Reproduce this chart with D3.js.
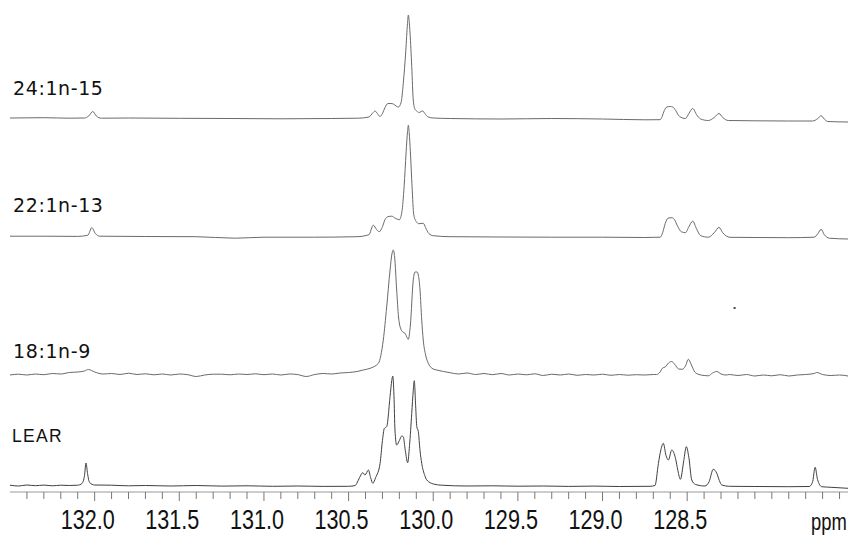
<!DOCTYPE html>
<html>
<head>
<meta charset="utf-8">
<script src="https://cdn.jsdelivr.net/npm/d3@7"></script>
<style>
  body { margin: 0; background: #fff; }
  svg { display: block; }
</style>
</head>
<body>
<div id="chart"></div>
<script>
// 13C NMR olefinic region, four samples stacked (ppm, relative intensity)
const traceNames = ['24:1n-15', '22:1n-13', '18:1n-9', 'LEAR'];

const ppm24 = [132.50, 132.30, 132.15, 132.06, 132.035, 132.011, 131.99, 131.96, 131.80, 131.50, 131.20, 130.90, 130.60, 130.44,
  130.38, 130.355, 130.344, 130.33, 130.314, 130.30, 130.285, 130.267, 130.25, 130.236, 130.215, 130.206, 130.19, 130.177,
  130.162, 130.152, 130.147, 130.142, 130.137, 130.127, 130.118, 130.107, 130.097, 130.085, 130.062, 130.05, 130.03, 130.0,
  129.90, 129.60, 129.30, 129.00, 128.75, 128.66, 128.648, 128.635, 128.62, 128.60, 128.585, 128.568, 128.545, 128.51,
  128.49, 128.467, 128.445, 128.42, 128.375, 128.34, 128.312, 128.29, 128.257, 128.10, 127.90, 127.76, 127.728, 127.709,
  127.69, 127.67, 127.55];
const int24 = [0.5, 0.8, 0.3, 0.5, 2.5, 7, 2.5, 0.3, 0.5, 0.2, 0, -0.3, 0, 0.3,
  1.5, 6, 7.5, 5, 2, 5, 11, 15, 15, 14.5, 12, 11.5, 16, 35,
  68, 95, 103.5, 97, 85.5, 52, 18.5, 9, 7.5, 6, 7.5, 5, 1.5, 0.5,
  0, -0.5, 0, -0.5, -1.3, -1.2, 2, 8, 11.5, 12, 11.5, 8, 2, 0,
  5, 10, 4, -0.5, -2, 1, 5, 1, -2, -2.3, -2.5, -2.5, 0, 2.8,
  -0.5, -3, -3.5];

const ppm22 = [132.50, 132.30, 132.10, 132.04, 132.017, 131.995, 131.97, 131.70, 131.40, 131.17, 131.00, 130.70, 130.45,
  130.38, 130.354, 130.334, 130.319, 130.30, 130.285, 130.267, 130.245, 130.225, 130.200, 130.185, 130.172, 130.16, 130.152,
  130.147, 130.142, 130.135, 130.125, 130.115, 130.100, 130.085, 130.059, 130.045, 130.025, 130.00, 129.90, 129.60, 129.30,
  129.00, 128.75, 128.66, 128.645, 128.63, 128.613, 128.59, 128.575, 128.555, 128.535, 128.51, 128.49, 128.467, 128.445,
  128.42, 128.375, 128.34, 128.312, 128.29, 128.247, 128.10, 127.90, 127.75, 127.728, 127.709, 127.69, 127.66, 127.55];
const int22 = [0.5, 0.5, 0.3, 1.5, 9, 3, 0.5, 0.2, 0, -1.5, -0.5, -0.5, 0,
  2, 11.5, 7, 5, 10, 17, 20, 20.5, 18.5, 17, 25, 50, 85, 105,
  111.5, 104, 85, 50, 22, 15, 13, 13.5, 9, 3, 1, 0, -0.3, -0.5,
  -0.5, -0.8, -0.5, 4, 13, 18.5, 19, 17, 10, 5, 4, 10, 15.5, 8,
  1, -0.5, 4, 9.3, 4, -0.6, -0.8, -1, -0.5, 3, 7.4, 2, -1.5, -2.3];

const ppm18 = [132.50, 132.45, 132.40, 132.35, 132.30, 132.25, 132.20, 132.15, 132.10, 132.06, 132.037, 132.00, 131.95,
  131.90, 131.85, 131.80, 131.75, 131.70, 131.65, 131.60, 131.55, 131.50, 131.45, 131.40, 131.35, 131.30, 131.25, 131.20,
  131.15, 131.10, 131.05, 131.00, 130.95, 130.90, 130.85, 130.80, 130.75, 130.70, 130.65, 130.60, 130.55, 130.50, 130.45,
  130.413, 130.373, 130.324, 130.295, 130.275, 130.255, 130.245, 130.236, 130.228, 130.216, 130.205, 130.196, 130.180,
  130.167, 130.147, 130.135, 130.118, 130.107, 130.095, 130.088, 130.078, 130.068, 130.059, 130.045, 130.029, 130.00,
  129.979, 129.90, 129.85, 129.80, 129.75, 129.70, 129.65, 129.60, 129.55, 129.50, 129.45, 129.40, 129.35, 129.30, 129.25,
  129.20, 129.15, 129.10, 129.05, 129.00, 128.95, 128.90, 128.85, 128.80, 128.75, 128.70, 128.68, 128.66, 128.645, 128.63,
  128.61, 128.591, 128.575, 128.55, 128.53, 128.51, 128.493, 128.475, 128.455, 128.43, 128.40, 128.375, 128.35, 128.325,
  128.30, 128.27, 128.25, 128.20, 128.15, 128.10, 128.05, 128.00, 127.95, 127.90, 127.85, 127.80, 127.75, 127.735, 127.70,
  127.65, 127.60, 127.55];
const int18 = [0, 0.8, 0, 1, 0.3, 1.5, 1, 2.5, 3, 4, 5.5, 3, 1,
  1.5, 0.5, 1.8, 0.5, 1.2, 0.2, 1, 0, 1, 0.3, -1.5, 0, 0.8, 0.8, 0.2,
  1, 0.5, 1.2, 0.3, 1, 0, 1, 0.4, -1.5, 0.5, 1.5, 1, 2, 2.5, 3.5,
  5, 6.7, 11.7, 35, 68, 105, 120, 125, 118, 85, 58, 48.3, 43,
  41.7, 35.7, 50, 95, 103, 103, 100, 85, 55, 35, 20, 11.7, 6,
  5, 2.3, 1, 2, 0.5, 1.5, 0.3, 1.5, 0, 1, 0.2, 1.2, -0.5, 0.8, 0,
  1, -0.3, 0.5, 0, 0.8, -0.3, 0.5, -0.2, 0.3, 0, 0.5, 0.5, 3, 7, 8,
  12, 13.5, 11, 6, 5.7, 9, 15.7, 10, 3, 0.5, -0.5, -0.8, 2, 3.5,
  1, 0, 0.5, -0.5, 0.5, -1, 0, -0.8, 0.3, -1, 0, 0.5, 1.5, 2.5, 0.5,
  -0.5, 0, -1];

const ppmLear = [132.50, 132.45, 132.40, 132.35, 132.30, 132.25, 132.20, 132.15, 132.10, 132.075, 132.06, 132.051, 132.042,
  132.03, 132.00, 131.90, 131.80, 131.70, 131.55, 131.40, 131.25, 131.10, 130.95, 130.80, 130.65, 130.50, 130.46, 130.452,
  130.435, 130.416, 130.403, 130.383, 130.37, 130.357, 130.34, 130.314, 130.30, 130.289, 130.275, 130.255, 130.245, 130.239,
  130.232, 130.226, 130.216, 130.200, 130.186, 130.177, 130.165, 130.151, 130.14, 130.127, 130.118, 130.112, 130.104, 130.097,
  130.088, 130.078, 130.068, 130.05, 130.038, 129.999, 129.95, 129.80, 129.65, 129.50, 129.35, 129.20, 129.05, 128.90,
  128.72, 128.69, 128.67, 128.655, 128.641, 128.625, 128.611, 128.591, 128.569, 128.555, 128.540, 128.52, 128.505, 128.49,
  128.473, 128.45, 128.395, 128.37, 128.346, 128.325, 128.31, 128.296, 128.25, 128.10, 127.90, 127.78, 127.76, 127.744,
  127.73, 127.705, 127.65, 127.55];
const intLear = [0.3, -0.5, 0.5, -0.2, 0.4, -0.3, 0.3, 0, 0.3, 2, 10, 22.5, 12,
  3, 0.5, 0.3, -0.3, 0, -0.5, 0, -0.6, -0.3, -0.8, -0.5, -0.9, -0.8, 0, 2,
  8, 12.8, 10.5, 15.5, 8, 2.2, 8, 22, 45, 57, 58.8, 89, 105, 109.5,
  90, 55.5, 40.5, 45, 49.5, 48.8, 35, 22.8, 40, 72, 95, 104.8, 80, 58.8,
  53.8, 35, 22.2, 10, 5.5, 1.5, 0.3, -0.5, -0.3, -0.7, -0.5, -0.9, -0.6, -1,
  -0.8, 0, 22, 36, 42.2, 30, 25.5, 35.5, 27.2, 15, 6.2, 25, 38.8, 28,
  5.5, 1, -0.5, 4, 16.2, 12.2, 5, 0.5, -0.8, -1, -1.2, -1, 3, 18.2,
  6, -1.2, -1.8, -2.8];

const tickLabels = [132.0, 131.5, 131.0, 130.5, 130.0, 129.5, 129.0, 128.5];

const series = [
  { name: traceNames[0], ppm: ppm24, val: int24 },
  { name: traceNames[1], ppm: ppm22, val: int22 },
  { name: traceNames[2], ppm: ppm18, val: int18 },
  { name: traceNames[3], ppm: ppmLear, val: intLear }
];

const W = 849, H = 537;
const baselines = [118.5, 236.7, 375, 485.5];
const labelY = [95, 212, 358, 442];

const svg = d3.select('#chart').append('svg')
  .attr('width', W)
  .attr('height', H);

const x = d3.scaleLinear().domain([132.5, 127.55]).range([10, 848]);

series.forEach((s, i) => {
  const y = d3.scaleLinear().domain([0, 130]).range([baselines[i], baselines[i] - 130]);
  const pts = s.ppm.map((p, k) => [p, s.val[k]]);
  const line = d3.line()
    .x(d => x(d[0]))
    .y(d => y(d[1]))
    .curve(d3.curveMonotoneX);
  svg.append('path')
    .datum(pts)
    .attr('fill', 'none')
    .attr('stroke', i === 3 ? '#404040' : '#6a6a6a')
    .attr('stroke-width', 1)
    .attr('stroke-linejoin', 'round')
    .attr('d', line);

  svg.append('text')
    .attr('x', i === 3 ? 12 : 13)
    .attr('y', labelY[i])
    .attr('font-family', i === 3 ? 'Liberation Sans, Arial, sans-serif' : 'DejaVu Sans, Verdana, sans-serif')
    .attr('font-size', i === 3 ? 17.5 : 19)
    .attr('letter-spacing', i === 3 ? 1.3 : 0.6)
    .attr('fill', '#111')
    .text(s.name);
});

// stray speck on the scan, above the 18:1n-9 trace
const speck = { ppm: 128.22, val: 67 };
svg.append('rect')
  .attr('x', x(speck.ppm) - 1)
  .attr('y', baselines[2] - speck.val - 1)
  .attr('width', 2).attr('height', 2)
  .attr('fill', '#444');

// axis: minor ticks every 0.1 ppm, labels every 0.5
const axisY = 492;
const minor = d3.range(1276, 1325).map(v => v / 10);
const axisG = svg.append('g').attr('transform', `translate(0,${axisY})`);
axisG.append('line')
  .attr('x1', 10).attr('x2', 848)
  .attr('stroke', '#9a9a9a').attr('stroke-width', 1);
axisG.selectAll('.tick')
  .data(minor)
  .enter().append('line')
  .attr('class', 'tick')
  .attr('x1', d => x(d)).attr('x2', d => x(d))
  .attr('y1', 0)
  .attr('y2', d => tickLabels.some(t => Math.abs(t - d) < 1e-6) ? 9 : 7)
  .attr('stroke', '#777').attr('stroke-width', 1);
axisG.selectAll('.lbl')
  .data(tickLabels)
  .enter().append('text')
  .attr('class', 'lbl')
  .attr('transform', d => `translate(${x(d) - 7},37) scale(0.8,1)`)
  .attr('text-anchor', 'middle')
  .attr('font-family', 'Liberation Sans, Arial, sans-serif')
  .attr('font-size', 27)
  .attr('fill', '#111')
  .text(d => d.toFixed(1));
axisG.append('text')
  .attr('transform', 'translate(811,38) scale(0.8,1)')
  .attr('font-family', 'Liberation Sans, Arial, sans-serif')
  .attr('font-size', 23)
  .attr('fill', '#111')
  .text('ppm');
</script>
</body>
</html>
